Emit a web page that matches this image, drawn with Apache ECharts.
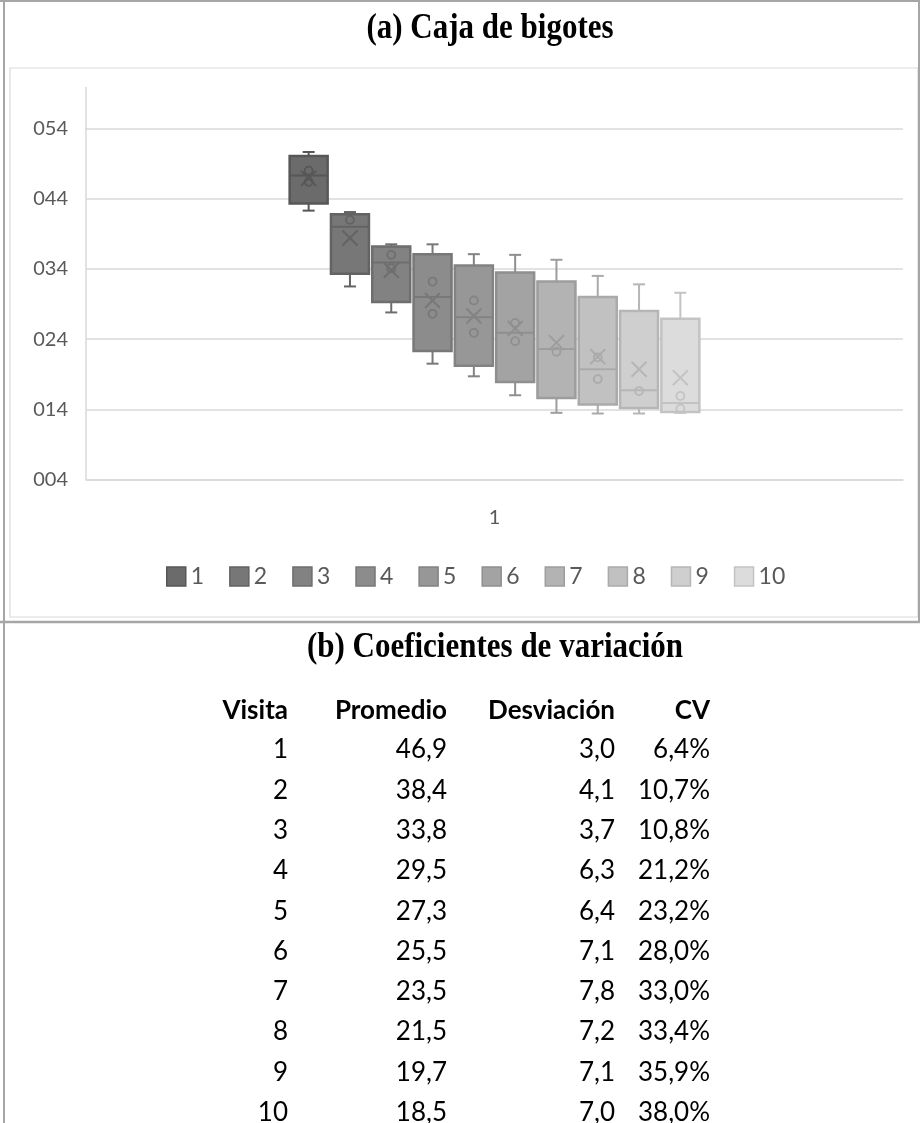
<!DOCTYPE html>
<html><head><meta charset="utf-8">
<script src="https://cdn.jsdelivr.net/npm/echarts@6/dist/echarts.min.js"></script>
<style>html,body{margin:0;padding:0;background:#fff}#c{width:920px;height:1123px}</style>
</head><body><div id="c"></div>
<script>
// ---- data ----
const categories = ['1'];
const seriesNames = ['1','2','3','4','5','6','7','8','9','10'];
const yTickLabels = ['004','014','024','034','044','054'];
const whiskerLow  = [42.3,31.5,27.8,20.5,18.7,16.0,13.5,13.4,13.4,13.5];
const q1          = [43.3,33.3,29.3,22.3,20.2,17.9,15.6,14.7,14.2,13.6];
const medians     = [47.3,40.0,34.9,30.0,27.1,24.9,22.6,19.7,16.7,14.9];
const q3          = [50.1,41.8,37.2,36.1,34.5,33.5,32.2,30.0,28.0,26.9];
const whiskerHigh = [50.65,42.1,37.5,37.5,36.1,36.0,35.3,33.0,31.8,30.6];
const promedio    = [46.9,38.4,33.8,29.5,27.3,25.5,23.5,21.5,19.7,18.5];
const innerPoints = [[48.0,46.4],[41.0],[36.0,34.1],[32.2,27.6],[29.5,24.9],[26.3,23.7],[22.2],[21.4,18.3],[16.6],[15.9,14.1]];
const desviacion  = [3.0,4.1,3.7,6.3,6.4,7.1,7.8,7.2,7.1,7.0];
const cv          = [6.4,10.7,10.8,21.2,23.2,28.0,33.0,33.4,35.9,38.0];
const tableHeader = ['Visita','Promedio','Desviación','CV'];

// ---- styles ----
const fills   = ['#6b6b6b','#777777','#828282','#8c8c8c','#979797','#a3a3a3','#b3b3b3','#c1c1c1','#cfcfcf','#dcdcdc'];
const borders = ['#575757','#636363','#6e6e6e','#787878','#838383','#8f8f8f','#9d9d9d','#aaaaaa','#b6b6b6','#c3c3c3'];
const LBL = 'Lato, "Open Sans", sans-serif';
const SERIF = '"Liberation Serif", "DejaVu Serif", serif';

const fmt = v => v.toFixed(1).replace('.', ',');

function makeRender(i) {
  return function (params, api) {
    const x = api.value(0);
    const cx = api.coord([x, api.value(3)])[0];
    const w = api.size([1, 0])[0] * 0.92;
    const Y = v => api.coord([x, v])[1];
    const yl = Y(api.value(1)), yq1 = Y(api.value(2)), ym = Y(api.value(3)),
          yq3 = Y(api.value(4)), yh = Y(api.value(5)), ymean = Y(api.value(6));
    const lc = borders[i];
    const ls = { stroke: lc, lineWidth: 2, fill: null };
    const cap = 6, xs = 7.5;
    const ch = [
      { type: 'line', shape: { x1: cx, y1: yh, x2: cx, y2: yq3 }, style: ls },
      { type: 'line', shape: { x1: cx - cap, y1: yh, x2: cx + cap, y2: yh }, style: ls },
      { type: 'line', shape: { x1: cx, y1: yq1, x2: cx, y2: yl }, style: ls },
      { type: 'line', shape: { x1: cx - cap, y1: yl, x2: cx + cap, y2: yl }, style: ls },
      { type: 'rect', shape: { x: cx - w / 2, y: yq3, width: w, height: yq1 - yq3 },
        style: { fill: fills[i], stroke: lc, lineWidth: 2.5 } },
      { type: 'line', shape: { x1: cx - w / 2, y1: ym, x2: cx + w / 2, y2: ym }, style: ls },
      { type: 'line', shape: { x1: cx - xs, y1: ymean - xs, x2: cx + xs, y2: ymean + xs }, style: ls },
      { type: 'line', shape: { x1: cx - xs, y1: ymean + xs, x2: cx + xs, y2: ymean - xs }, style: ls }
    ];
    innerPoints[i].forEach(v => {
      const p = api.coord([x, v]);
      ch.push({ type: 'circle', shape: { cx: p[0], cy: p[1], r: 4 }, style: { fill: null, stroke: lc, lineWidth: 1.8 } });
    });
    return { type: 'group', children: ch };
  };
}

const series = seriesNames.map((n, i) => ({
  name: n,
  type: 'custom',
  xAxisIndex: 1, yAxisIndex: 1,
  renderItem: makeRender(i),
  itemStyle: { color: fills[i], borderColor: borders[i] },
  encode: { x: 0, y: [1, 2, 3, 4, 5] },
  data: [[i, whiskerLow[i], q1[i], medians[i], q3[i], whiskerHigh[i], promedio[i]]],
  silent: true
}));

// table graphics
const colRight = [288, 447, 615, 710];
const headerY = 711, row0Y = 750, rowStep = 40.3;
const graphics = [
  { type: 'rect', shape: { x: 10, y: 68, width: 908, height: 549 }, style: { fill: null, stroke: '#d9d9d9', lineWidth: 1.2 } },
  { type: 'line', shape: { x1: 0, y1: 1, x2: 920, y2: 1 }, style: { stroke: '#a6a6a6', lineWidth: 2 } },
  { type: 'line', shape: { x1: 4, y1: 0, x2: 4, y2: 1123 }, style: { stroke: '#a6a6a6', lineWidth: 2 } },
  { type: 'line', shape: { x1: 919, y1: 0, x2: 919, y2: 622 }, style: { stroke: '#a6a6a6', lineWidth: 2 } },
  { type: 'line', shape: { x1: 0, y1: 622, x2: 920, y2: 622 }, style: { stroke: '#a6a6a6', lineWidth: 2.5 } },
  { type: 'line', shape: { x1: 86, y1: 87, x2: 86, y2: 130 }, style: { stroke: '#d9d9d9', lineWidth: 1.5 } },
  { type: 'text', x: 490, y: 29, scaleY: 1.13, style: { text: '(a) Caja de bigotes', font: 'bold 31px ' + SERIF, fill: '#000', textAlign: 'center', textVerticalAlign: 'middle' } },
  { type: 'text', x: 495, y: 648, scaleY: 1.13, style: { text: '(b) Coeficientes de variación', font: 'bold 31px ' + SERIF, fill: '#000', textAlign: 'center', textVerticalAlign: 'middle' } }
];
tableHeader.forEach((h, c) => graphics.push({
  type: 'text', x: colRight[c], y: headerY,
  style: { text: h, font: 'bold 26px ' + LBL, fill: '#000', textAlign: 'right', textVerticalAlign: 'middle' }
}));
seriesNames.forEach((n, r) => {
  const vals = [n, fmt(promedio[r]), fmt(desviacion[r]), fmt(cv[r]) + '%'];
  vals.forEach((t, c) => graphics.push({
    type: 'text', x: colRight[c], y: row0Y + r * rowStep,
    style: { text: t, font: '26px ' + LBL, fill: '#000', textAlign: 'right', textVerticalAlign: 'middle' }
  }));
});

const chart = echarts.init(document.getElementById('c'), null, { renderer: 'canvas' });
chart.setOption({
  animation: false,
  backgroundColor: '#fff',
  grid: [
    { left: 86, right: 17, top: 128.5, bottom: 643.5 },
    { left: 288, width: 413, top: 128.5, bottom: 643.5 }
  ],
  xAxis: [
    { type: 'category', gridIndex: 0, data: categories,
      axisLine: { show: true, lineStyle: { color: '#d9d9d9', width: 1.5 } },
      axisTick: { show: false },
      axisLabel: { color: '#595959', fontSize: 20, fontFamily: LBL, margin: 28 },
      splitLine: { show: false } },
    { type: 'category', gridIndex: 1, data: seriesNames, show: false }
  ],
  yAxis: [
    { type: 'value', gridIndex: 0, min: 4, max: 54, interval: 10,
      axisLine: { show: true, lineStyle: { color: '#d9d9d9', width: 1.5 } },
      axisTick: { show: false },
      axisLabel: { color: '#595959', fontSize: 20, fontFamily: LBL, margin: 18,
        formatter: v => yTickLabels[Math.round((v - 4) / 10)] },
      splitLine: { show: true, lineStyle: { color: '#d9d9d9', width: 1.5 } } },
    { type: 'value', gridIndex: 1, min: 4, max: 54, interval: 10, show: false, splitLine: { show: false } }
  ],
  legend: {
    left: 161, top: 560, icon: 'rect', itemWidth: 19, itemHeight: 19, itemGap: 25,
    textStyle: { color: '#595959', fontSize: 23, fontFamily: LBL },
    data: seriesNames.map((n, i) => ({ name: n, itemStyle: { color: fills[i], borderColor: borders[i], borderWidth: 1.5 } })),
    selectedMode: false
  },
  series: series,
  graphic: graphics
});
</script></body></html>
